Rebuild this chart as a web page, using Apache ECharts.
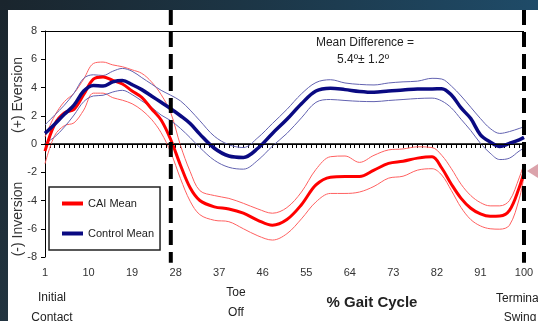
<!DOCTYPE html>
<html><head><meta charset="utf-8">
<script src="https://cdn.jsdelivr.net/npm/echarts@6/dist/echarts.min.js"></script>
<style>
html,body{margin:0;padding:0;width:538px;height:321px;overflow:hidden;background:#fff;}
#top{position:absolute;left:0;top:0;width:538px;height:10px;background:linear-gradient(90deg,#1a252d 0%,#1c3545 45%,#1f4b68 100%);}
#left{position:absolute;left:0;top:0;width:8px;height:321px;background:linear-gradient(180deg,#1a252d 0%,#223440 100%);}
#c{position:absolute;left:0;top:0;width:538px;height:321px;}
</style></head>
<body><div id="top"></div><div id="left"></div><div id="c"></div>
<script>
const pct = [1,3,5,7,9,11,13,15,17,19,21,23,25,27,29,31,33,36,39,42,45,48,51,54,57,60,63,66,69,72,75,78,81,83,85,87,89,91,93,95,97,99,100];
const caiMean = [-0.5,1.4,2.2,2.45,3.5,4.6,4.75,4.5,4.25,3.75,3.3,2.5,1.7,0.3,-1.5,-3.1,-4.0,-4.45,-4.6,-4.9,-5.4,-5.75,-5.35,-4.3,-2.9,-2.35,-2.3,-2.3,-1.85,-1.37,-1.22,-1.0,-0.9,-1.7,-2.85,-3.85,-4.55,-4.95,-5.12,-5.1,-4.7,-3.1,-2.0];
const caiUpper = [0.5,2.0,3.0,3.6,4.6,5.7,5.8,5.6,5.47,5.25,5.0,4.4,3.5,2.2,-0.1,-1.95,-3.3,-3.65,-3.85,-4.2,-4.6,-4.9,-4.5,-3.4,-1.8,-0.9,-0.85,-1.3,-0.8,-0.42,-0.35,-0.2,-0.25,-0.8,-1.75,-2.85,-3.65,-4.15,-4.38,-4.38,-4.0,-2.4,-1.4];
const caiLower = [-1.4,0.6,1.3,1.5,2.4,3.6,3.6,3.28,3.1,2.85,2.4,1.75,0.8,-0.6,-2.45,-4.05,-5.0,-5.4,-5.5,-6.0,-6.5,-6.8,-6.35,-5.3,-4.1,-3.5,-3.5,-3.4,-3.0,-2.42,-2.28,-1.85,-1.75,-2.2,-3.3,-4.5,-5.35,-5.8,-6.0,-6.03,-5.75,-3.9,-2.3];
const ctlMean = [0.75,1.4,2.1,2.75,3.75,4.15,4.1,4.4,4.5,4.2,3.85,3.4,2.95,2.5,2.0,1.45,0.7,-0.3,-0.85,-0.95,-0.3,0.75,1.75,2.85,3.75,3.95,3.85,3.72,3.66,3.75,3.82,3.9,3.9,3.92,3.47,2.55,1.8,0.65,0.15,-0.17,0.05,0.3,0.47];
const ctlUpper = [1.35,2.05,2.75,3.6,4.65,4.9,4.85,5.15,5.35,5.15,4.7,4.25,3.8,3.45,3.05,2.4,1.65,0.55,-0.05,-0.25,0.45,1.45,2.45,3.55,4.35,4.55,4.32,4.22,4.18,4.32,4.4,4.45,4.65,4.6,4.1,3.4,2.6,1.8,1.1,0.75,0.88,1.1,1.22];
const ctlLower = [0.05,0.5,1.2,2.05,3.0,3.4,3.45,3.68,3.8,3.5,3.05,2.6,2.05,1.65,1.1,0.45,-0.25,-1.15,-1.65,-1.78,-1.15,-0.15,0.75,1.85,2.95,3.15,3.08,3.02,3.0,3.08,3.15,3.22,3.25,3.05,2.55,1.75,0.95,0.05,-0.65,-1.1,-1.0,-0.5,-0.3];
const xLabelEvery = 9;
const eventLines = [27, 100];
const legendNames = ['CAI Mean', 'Control Mean'];

const pairs = a => pct.map((x, i) => [x, a[i]]);
const chart = echarts.init(document.getElementById('c'), null, {renderer: 'canvas'});
const F = "'Liberation Sans', Arial, sans-serif";
function line(name, data, color, width, z) {
  return {name, type: 'line', data: pairs(data), smooth: 0.35, showSymbol: false, symbol: 'none',
    lineStyle: {color, width}, itemStyle: {color}, z, silent: true, clip: false};
}
const series = [
  line('CAI SD+', caiUpper, '#ff6060', 1, 2),
  line('CAI SD-', caiLower, '#ff6060', 1, 2),
  line('Control SD+', ctlUpper, '#6262b0', 1, 2),
  line('Control SD-', ctlLower, '#6262b0', 1, 2),
  line(legendNames[0], caiMean, '#ff0000', 3, 4),
  line(legendNames[1], ctlMean, '#0a0a82', 3.5, 4)
];
series[0].markLine = {silent: true, symbol: 'none', label: {show: false},
  lineStyle: {color: '#000', width: 1, type: 'solid'},
  data: [{yAxis: 0}, {yAxis: 8}]};
chart.setOption({
  animation: false,
  grid: {left: 45, right: 14, top: 31, bottom: 64},
  xAxis: {type: 'value', min: 1, max: 100, interval: 1,
    axisLine: {lineStyle: {color: '#000', width: 1.5}},
    axisTick: {length: 4, lineStyle: {color: '#000', width: 1}},
    splitLine: {show: false},
    axisLabel: {margin: 10, color: '#333', fontSize: 11, fontFamily: F,
      formatter: v => ((v - 1) % xLabelEvery === 0 ? String(v) : '')}},
  yAxis: {type: 'value', min: -8, max: 8, interval: 2,
    axisLine: {show: true, lineStyle: {color: '#000', width: 1}},
    axisTick: {show: true, length: 4, lineStyle: {color: '#000'}},
    splitLine: {show: false},
    axisLabel: {margin: 8, color: '#333', fontSize: 11, fontFamily: F}},
  legend: {data: legendNames, orient: 'vertical', left: 49, top: 187,
    icon: 'rect', itemWidth: 21, itemHeight: 4, itemGap: 19, itemStyle: {borderWidth: 0},
    padding: [11, 6, 11, 13], borderColor: '#222', borderWidth: 1.5, backgroundColor: '#fff',
    textStyle: {color: '#222', fontSize: 11, fontFamily: F, padding: [0, 0, 0, 0]}, selectedMode: false},
  series
});
const gfx = [];
eventLines.forEach(x => {
  const a = chart.convertToPixel({gridIndex: 0}, [x, 9.5]);
  const b = chart.convertToPixel({gridIndex: 0}, [x, -8.4]);
  gfx.push({type: 'line', shape: {x1: a[0], y1: 10, x2: b[0], y2: b[1]},
    style: {stroke: '#000', lineWidth: 4, lineDash: [15, 7]}, z: 10});
});
const txt = (x, y, text, opt) => Object.assign({type: 'text', x, y,
  style: Object.assign({text, fill: '#222', font: '12px ' + F, textAlign: 'center', textVerticalAlign: 'middle'}, opt || {}), z: 20});
gfx.push(txt(365, 43, 'Mean Difference ='));
gfx.push(txt(363, 60, '5.4º± 1.2º'));
gfx.push(txt(52, 298, 'Initial'));
gfx.push(txt(52, 318, 'Contact'));
gfx.push(txt(236, 293, 'Toe'));
gfx.push(txt(236, 313, 'Off'));
gfx.push(txt(372, 303, '% Gait Cycle', {font: 'bold 15px ' + F}));
gfx.push(txt(496, 299, 'Terminal', {textAlign: 'left'}));
gfx.push(txt(520, 318, 'Swing'));
gfx.push(Object.assign(txt(18, 95, '(+) Eversion', {font: '14px ' + F, fill: '#333'}), {rotation: Math.PI / 2}));
gfx.push(Object.assign(txt(18, 219, '(-) Inversion', {font: '14px ' + F, fill: '#333'}), {rotation: Math.PI / 2}));
gfx.push({type: 'polygon', shape: {points: [[527, 171], [538, 164], [538, 178]]}, style: {fill: '#dba3ab'}, z: 20});
chart.setOption({graphic: gfx});
</script></body></html>
